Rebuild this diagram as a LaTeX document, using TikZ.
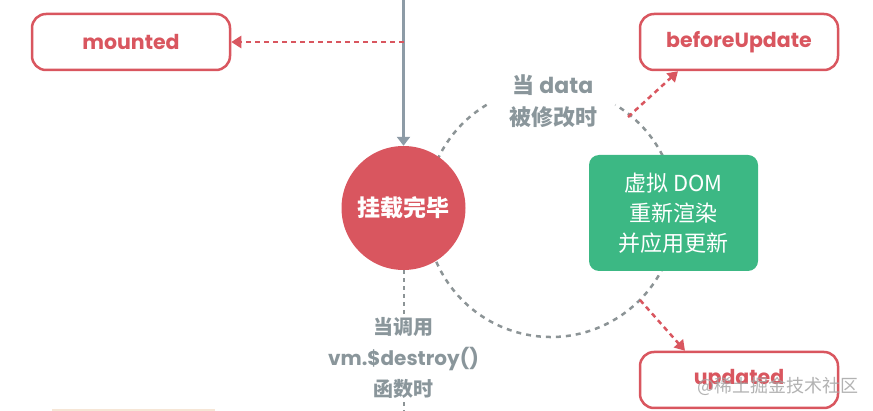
\documentclass[tikz,border=0pt]{standalone}
\usepackage{fontspec}
\setmainfont{Poppins}
\newfontfamily\cjk{Noto Sans CJK SC}
\usetikzlibrary{arrows.meta,calc}
\definecolor{vred}{RGB}{217,86,95}
\definecolor{vgreen}{RGB}{60,184,132}
\definecolor{vgray}{RGB}{138,150,155}
\definecolor{vline}{RGB}{141,155,166}
\definecolor{vdash}{RGB}{140,148,150}
\definecolor{vmark}{RGB}{165,165,165}
\definecolor{vbeige}{RGB}{246,230,214}
\tikzset{
  hookbox/.style={draw=vred, line width=2.5pt, rounded corners=14pt, fill=white,
    minimum width=198pt, minimum height=56pt, text=vred, font=\fontsize{20.5}{22}\selectfont\bfseries},
  graytext/.style={text=vgray, align=center, font=\fontsize{20}{31}\selectfont\bfseries},
  reddash/.style={vred, line width=2.5pt, dash pattern=on 5pt off 4pt, -{Triangle[length=10pt,width=12pt]}},
  graydash/.style={vdash, line width=2.5pt, dash pattern=on 5pt off 5pt},
}
\begin{document}
\begin{tikzpicture}[x=1pt,y=1pt]
\useasboundingbox (0,0) rectangle (873,-411);
% dashed update loop
\draw[graydash] (551,-212) ++(121:125) arc[start angle=121, end angle=419, radius=125];
% faint fragment at bottom left
\draw[vbeige, line width=1.5pt] (52,-410) -- (215,-410);
% nodes
\node[hookbox] (mounted) at (131,-42) {mounted};
\node[hookbox] (beforeUpdate) at (739,-42) {beforeUpdate};
\node[hookbox] (updated) at (739,-380) {updated};
\node[circle, fill=vred, minimum size=124pt, inner sep=0pt, text=white,
  font=\cjk\fontsize{23}{26}\selectfont\bfseries] (mountedc) at (403.5,-208) {挂载完毕};
\node[fill=vgreen, rounded corners=10pt, minimum width=169pt, minimum height=116pt,
  text=white, align=center, font=\cjk\fontsize{22}{30}\selectfont] (vdom) at (673.5,-213)
  {虚拟 DOM\\重新渲染\\并应用更新};
\node[graytext, font=\fontsize{22}{32}\selectfont\bfseries] (datachg) at (553,-101) {{\cjk 当} data\\{\cjk 被修改时}};
\node[graytext] (destroy) at (403.5,-358) {{\cjk 当调用}\\vm.\$destroy()\\{\cjk 函数时}};
% connectors
\coordinate (top) at (403.5,0);
\coordinate (mtap) at (403.5,-42);
\coordinate (bottom) at (403.5,-411);
\coordinate (bu) at (628,-117);
\coordinate (up) at (640,-300);
\draw[vline, line width=3pt, -{Triangle[length=9pt,width=13pt]}] (top) -- (mountedc.north);
\draw[reddash] (mtap) -- (mounted.east);
\draw[reddash] (bu) -- ($(beforeUpdate.south)+(-61,0)$);
\draw[reddash] (up) -- ($(updated.north)+(-54,0)$);
\draw[graydash, dash pattern=on 4pt off 4pt, line width=2pt] (mountedc.south) -- (destroy.north);
\draw[graydash, dash pattern=on 4pt off 4pt, line width=2pt] (destroy.south) -- (bottom);
% watermark
\node[text=vmark, font=\cjk\fontsize{18}{20}\selectfont, opacity=0.85] (wm) at (778,-386) {@稀土掘金技术社区};
\end{tikzpicture}
\end{document}
